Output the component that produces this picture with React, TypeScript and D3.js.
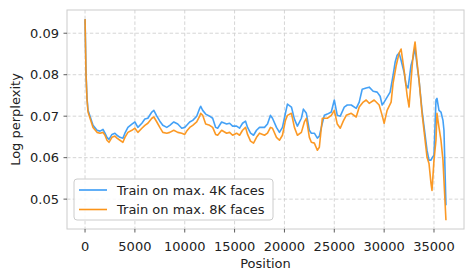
import * as d3 from "d3";

const xTicks = [0, 5000, 10000, 15000, 20000, 25000, 30000, 35000];
const yTicks = [0.05, 0.06, 0.07, 0.08, 0.09];

// [position, log perplexity]
const train4k: [number, number][] = [
  [0, 0.0934], [100, 0.0801], [200, 0.0743], [300, 0.0714], [500, 0.07],
  [800, 0.0678], [1200, 0.0666], [1500, 0.0664], [1800, 0.0668], [2000, 0.0659],
  [2200, 0.0649], [2400, 0.0644], [2700, 0.0656], [3000, 0.0659], [3200, 0.0654],
  [3500, 0.0649], [3800, 0.0647], [4000, 0.0659], [4300, 0.0673], [4700, 0.0681],
  [5000, 0.0686], [5300, 0.0673], [5700, 0.0683], [6000, 0.0693], [6300, 0.0695],
  [6700, 0.071], [6900, 0.0714], [7200, 0.07], [7500, 0.0688], [7800, 0.0678],
  [8200, 0.0673], [8500, 0.0678], [8900, 0.0686], [9300, 0.0681], [9700, 0.0671],
  [10000, 0.0673], [10200, 0.0678], [10500, 0.0686], [10800, 0.069], [11200, 0.07],
  [11500, 0.0719], [11600, 0.0724], [11800, 0.0714], [12100, 0.0705], [12500, 0.07],
  [12800, 0.0695], [13100, 0.0673], [13300, 0.0671], [13700, 0.0686], [14200, 0.0681],
  [14500, 0.0683], [14800, 0.0676], [15200, 0.0676], [15500, 0.0671], [15800, 0.0683],
  [16100, 0.0688], [16300, 0.0673], [16600, 0.0659], [16900, 0.0654], [17200, 0.0666],
  [17500, 0.0673], [18000, 0.0673], [18300, 0.0681], [18600, 0.0702], [18800, 0.0695],
  [19200, 0.0673], [19500, 0.0661], [19800, 0.0673], [20100, 0.0707], [20300, 0.0729],
  [20700, 0.0722], [21000, 0.0693], [21300, 0.0676], [21700, 0.0695], [21900, 0.0717],
  [22200, 0.0707], [22500, 0.0666], [22700, 0.0659], [23000, 0.0659], [23300, 0.0647],
  [23500, 0.0652], [23700, 0.0673], [24000, 0.0702], [24300, 0.0705], [24700, 0.071],
  [25000, 0.0739], [25300, 0.0702], [25600, 0.07], [26000, 0.0722], [26300, 0.0727],
  [26700, 0.0727], [27200, 0.0719], [27500, 0.0734], [27800, 0.0765], [28200, 0.0768],
  [28500, 0.077], [28900, 0.076], [29300, 0.0758], [29600, 0.0748], [29800, 0.0727],
  [30000, 0.0734], [30300, 0.0746], [30600, 0.0758], [30900, 0.0799], [31100, 0.083],
  [31300, 0.0847], [31500, 0.0852], [31700, 0.0835], [32000, 0.0806], [32200, 0.0775],
  [32400, 0.0768], [32700, 0.0823], [32900, 0.084], [33100, 0.0864], [33300, 0.0823],
  [33500, 0.0787], [33800, 0.0714], [34050, 0.0666], [34300, 0.0618], [34500, 0.0594],
  [34700, 0.0594], [34800, 0.0599], [35000, 0.0606], [35200, 0.0739], [35300, 0.0743],
  [35500, 0.0714], [35700, 0.071], [35900, 0.069], [36000, 0.0666], [36200, 0.0485],
];

const train8k: [number, number][] = [
  [0, 0.0934], [100, 0.0799], [200, 0.0739], [300, 0.071], [500, 0.0695],
  [800, 0.0673], [1200, 0.0661], [1500, 0.0659], [1800, 0.0661], [2000, 0.0654],
  [2200, 0.0642], [2400, 0.0637], [2700, 0.0649], [3000, 0.0652], [3200, 0.0647],
  [3500, 0.0642], [3800, 0.0637], [4000, 0.0649], [4300, 0.0661], [4700, 0.0666],
  [5000, 0.0671], [5300, 0.0661], [5700, 0.0671], [6000, 0.0678], [6300, 0.0683],
  [6700, 0.0695], [6900, 0.0698], [7200, 0.0686], [7500, 0.0673], [7800, 0.0661],
  [8200, 0.0659], [8500, 0.0661], [8900, 0.0666], [9300, 0.0661], [9700, 0.0659],
  [10000, 0.0656], [10200, 0.0664], [10500, 0.0673], [10800, 0.0678], [11200, 0.0686],
  [11500, 0.07], [11600, 0.0707], [11800, 0.0702], [12100, 0.0681], [12500, 0.0678],
  [12800, 0.0673], [13100, 0.0656], [13300, 0.0654], [13700, 0.0666], [14200, 0.0659],
  [14500, 0.0661], [14800, 0.0654], [15200, 0.0659], [15500, 0.0654], [15800, 0.0666],
  [16100, 0.0673], [16300, 0.0656], [16600, 0.064], [16900, 0.0635], [17200, 0.0649],
  [17500, 0.0659], [18000, 0.0654], [18300, 0.0659], [18600, 0.0673], [18800, 0.0671],
  [19200, 0.0649], [19500, 0.0642], [19800, 0.0654], [20100, 0.069], [20300, 0.0702],
  [20700, 0.0707], [21000, 0.0673], [21300, 0.0654], [21700, 0.0661], [22000, 0.0686],
  [22200, 0.0695], [22500, 0.0649], [22700, 0.0637], [23000, 0.0635], [23300, 0.0618],
  [23500, 0.0625], [23800, 0.0695], [24300, 0.0695], [24700, 0.0702], [25000, 0.0714],
  [25300, 0.0681], [25600, 0.0671], [25900, 0.0688], [26200, 0.0702], [26700, 0.0707],
  [27200, 0.0698], [27500, 0.0722], [27900, 0.0734], [28200, 0.0739], [28500, 0.0731],
  [29000, 0.0739], [29500, 0.0727], [29800, 0.0702], [30000, 0.0683], [30300, 0.0714],
  [30700, 0.0734], [30900, 0.078], [31200, 0.0821], [31500, 0.0852], [31700, 0.0862],
  [32000, 0.0811], [32300, 0.0751], [32500, 0.0722], [32700, 0.0787], [32900, 0.0847],
  [33100, 0.0879], [33300, 0.083], [33500, 0.0787], [33800, 0.0707], [34050, 0.0654],
  [34300, 0.0601], [34500, 0.0586], [34700, 0.0538], [34800, 0.0521], [35000, 0.0594],
  [35200, 0.0642], [35300, 0.0707], [35500, 0.0673], [35700, 0.0642], [35900, 0.0594],
  [36000, 0.0545], [36200, 0.0449],
];

const seriesNames = ["Train on max. 4K faces", "Train on max. 8K faces"];
const seriesColors = ["#3a9cf5", "#fb9419"];

const W = 474;
const H = 280;
const left = 67, right = 464, top = 10, bottom = 229;
const font = "DejaVu Sans, sans-serif";

export default function App() {
  const x = d3.scaleLinear().domain([-1810, 38010]).range([left, right]);
  const y = d3.scaleLinear().domain([0.0428, 0.0956]).range([bottom, top]);
  const line = d3
    .line<[number, number]>()
    .x((d) => x(d[0]))
    .y((d) => y(d[1]));

  const data = [train4k, train8k];

  return (
    <svg
      width={W}
      height={H}
      style={{ position: "absolute", left: 0, top: 0, background: "#fff" }}
      fontFamily={font}
    >
      {/* grid */}
      {xTicks.map((t) => (
        <line key={"gx" + t} x1={x(t)} x2={x(t)} y1={top} y2={bottom}
          stroke="#d0d0d0" strokeWidth={0.9} strokeDasharray="3.5,2.2" />
      ))}
      {yTicks.map((t) => (
        <line key={"gy" + t} x1={left} x2={right} y1={y(t)} y2={y(t)}
          stroke="#d0d0d0" strokeWidth={0.9} strokeDasharray="3.5,2.2" />
      ))}

      {/* lines */}
      {data.map((d, i) => (
        <path key={i} d={line(d) ?? ""} fill="none" stroke={seriesColors[i]}
          strokeWidth={1.6} strokeLinejoin="round" opacity={0.95} />
      ))}

      {/* frame */}
      <rect x={left} y={top} width={right - left} height={bottom - top}
        fill="none" stroke="#cccccc" strokeWidth={1} />

      {/* x axis */}
      {xTicks.map((t) => (
        <g key={"xt" + t}>
          <line x1={x(t)} x2={x(t)} y1={bottom} y2={bottom + 3.5} stroke="#333" strokeWidth={0.8} />
          <text x={x(t)} y={251} textAnchor="middle" fontSize={13} fill="#222">{t}</text>
        </g>
      ))}
      <text x={(left + right) / 2} y={268} textAnchor="middle" fontSize={13} fill="#222">Position</text>

      {/* y axis */}
      {yTicks.map((t) => (
        <g key={"yt" + t}>
          <line x1={left - 3.5} x2={left} y1={y(t)} y2={y(t)} stroke="#333" strokeWidth={0.8} />
          <text x={left - 8} y={y(t)} dy="0.36em" textAnchor="end" fontSize={13} fill="#222">
            {t.toFixed(2)}
          </text>
        </g>
      ))}
      <text transform={`translate(20,${(top + bottom) / 2}) rotate(-90)`} textAnchor="middle"
        fontSize={13} fill="#222">Log perplexity</text>

      {/* legend */}
      <rect x={74} y={179} width={199} height={41} rx={3} fill="#fff" fillOpacity={0.85}
        stroke="#cccccc" strokeWidth={1} />
      {seriesNames.map((name, i) => (
        <g key={name}>
          <line x1={79} x2={107} y1={190 + i * 19.5} y2={190 + i * 19.5}
            stroke={seriesColors[i]} strokeWidth={1.6} />
          <text x={117} y={190 + i * 19.5} dy="0.36em" fontSize={13} fill="#222">{name}</text>
        </g>
      ))}
    </svg>
  );
}
